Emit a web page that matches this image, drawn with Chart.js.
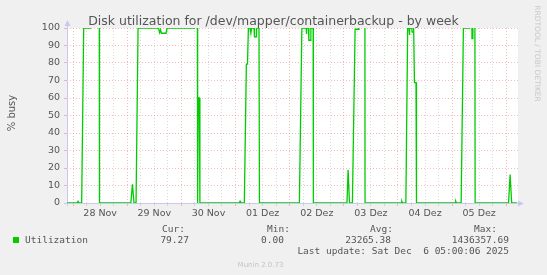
<!DOCTYPE html>
<html>
<head>
<meta charset="utf-8">
<script src="https://cdn.jsdelivr.net/npm/chart.js@4.4.1/dist/chart.umd.min.js"></script>
<style>
  html, body { margin: 0; padding: 0; background: #f0f0f0; }
  #wrap { width: 547px; height: 275px; }
</style>
</head>
<body>
<div id="wrap"><canvas id="chart" width="547" height="275"></canvas></div>
<script>
// time axis: hours since 28 Nov 00:00 (graph ends Sat 6 Dec 05:00)
const hours = [
  -2.7, 1.8, 2.2, 2.7, 3.8, 4.7, 7.8, 8.3, 11.5, 11.7,
  25.6, 26.3, 27.0, 27.9, 28.8, 37.9, 38.3, 38.8, 39.1, 41.2, 41.7,
  53.8, 54.1, 55.0, 55.2, 55.5, 56.0, 56.2,
  73.7, 74.0, 74.3, 75.9, 76.8, 77.3, 77.7, 78.4, 78.8, 79.1, 80.2, 80.4, 81.1, 81.3, 82.4, 82.6,
  100.3, 101.4, 103.3, 103.4, 103.6, 104.3, 104.5, 105.3, 105.4, 106.4, 106.5,
  121.4, 121.9, 122.5, 123.8, 125.0, 126.4, 126.7, 129.3, 129.4,
  145.4, 145.7, 146.0, 147.5, 148.3, 148.9, 149.1, 149.2, 150.1, 150.3, 150.7, 150.8, 151.1, 151.3, 152.0, 152.2,
  169.3, 169.6, 169.9, 172.0, 173.0, 175.6, 175.8, 176.6, 176.8, 177.1, 177.2, 178.0, 178.2,
  193.0, 193.7, 194.4, 196.8
];
// % busy at those times (values above 100 run off the top of the graph)
const busy = [
  0, 0, 1, 0, 0, 100, 100, 200, 200, 0,
  0, 10.7, 0, 0, 100, 100, 97.3, 99, 97, 97, 100,
  100, 200, 200, 0, 60, 60, 0,
  0, 1, 0, 0, 79.4, 79.4, 100, 100, 97, 100, 100, 95, 95, 100, 100, 0,
  0, 100, 100, 96.6, 100, 100, 93, 93, 100, 100, 0,
  0, 19, 0, 0, 99.3, 99.3, 200, 200, 0,
  0, 1, 0, 0, 100, 100, 96, 100, 100, 97.7, 97.7, 100, 100, 68.8, 68.8, 0,
  0, 1, 0, 0, 100, 100, 200, 200, 94, 94, 200, 200, 0,
  0, 16.2, 0, 0
];
const dayLabels = ['28 Nov', '29 Nov', '30 Nov', '01 Dez', '02 Dez', '03 Dez', '04 Dez', '05 Dez'];
const legendHeads = ['Cur:', 'Min:', 'Avg:', 'Max:'];
const legendValues = ['79.27', '0.00', '23265.38', '1436357.69'];

const SANS = 'DejaVu Sans';
const MONO = 'DejaVu Sans Mono';
const MAJOR = 'rgba(235, 120, 120, 0.5)';
const MINOR = 'rgba(175, 175, 175, 0.45)';
const AXIS = '#c8c8f2';

const munin = {
  id: 'munin',
  beforeDraw(chart) {
    const { ctx, chartArea: a } = chart;
    ctx.save();
    ctx.fillStyle = '#ffffff';
    ctx.fillRect(a.left, a.top, a.right - a.left, a.bottom - a.top);
    ctx.restore();
  },
  beforeDatasetsDraw(chart) {
    const { ctx, chartArea: a } = chart;
    ctx.save();
    ctx.strokeStyle = AXIS;
    ctx.fillStyle = AXIS;
    ctx.lineWidth = 1;
    ctx.beginPath();
    ctx.moveTo(a.left + 0.5, a.bottom + 3);
    ctx.lineTo(a.left + 0.5, a.top - 4);
    ctx.moveTo(a.left - 3, a.bottom + 0.5);
    ctx.lineTo(a.right + 2, a.bottom + 0.5);
    ctx.stroke();
    // arrow heads
    ctx.beginPath();
    ctx.moveTo(a.left + 0.5, a.top - 8);
    ctx.lineTo(a.left - 2.5, a.top - 2);
    ctx.lineTo(a.left + 3.5, a.top - 2);
    ctx.fill();
    ctx.beginPath();
    ctx.moveTo(a.right + 6, a.bottom + 0.5);
    ctx.lineTo(a.right, a.bottom - 2.5);
    ctx.lineTo(a.right, a.bottom + 3.5);
    ctx.fill();
    ctx.restore();
  },
  afterDraw(chart) {
    const { ctx } = chart;
    ctx.save();
    ctx.fillStyle = '#555';
    ctx.textAlign = 'center';
    ctx.textBaseline = 'alphabetic';
    ctx.font = `12.5px "${SANS}"`;
    ctx.fillText('Disk utilization for /dev/mapper/containerbackup - by week', 273.5, 25);

    ctx.save();
    ctx.translate(15, 113);
    ctx.rotate(-Math.PI / 2);
    ctx.font = `10px "${SANS}"`;
    ctx.fillText('% busy', 0, 0);
    ctx.restore();

    ctx.save();
    ctx.translate(535, 53.5);
    ctx.rotate(Math.PI / 2);
    ctx.fillStyle = '#c8c8c8';
    ctx.font = `7.5px "${SANS}"`;
    ctx.fillText('RRDTOOL / TOBI OETIKER', 0, 0);
    ctx.restore();

    ctx.fillStyle = '#00cc00';
    ctx.fillRect(13, 237, 6, 6);

    ctx.fillStyle = '#555';
    ctx.font = `9.5px "${MONO}"`;
    ctx.textAlign = 'left';
    ctx.fillText('Utilization', 25, 243);
    ctx.textAlign = 'right';
    const headX = [185, 290, 393, 497];
    const valX = [189, 284, 391, 509];
    legendHeads.forEach((h, i) => ctx.fillText(h, headX[i], 231.5));
    legendValues.forEach((v, i) => ctx.fillText(v, valX[i], 243));
    ctx.fillText('Last update: Sat Dec  6 05:00:06 2025', 509, 254);

    ctx.textAlign = 'center';
    ctx.fillStyle = '#c4c4c4';
    ctx.font = `7px "${SANS}"`;
    ctx.fillText('Munin 2.0.73', 260.5, 267);
    ctx.restore();
  }
};

const gridHours = [];
for (let h = 0; h <= 192; h += 6) gridHours.push(h);
const gridBusy = [];
for (let v = 0; v <= 100; v += 5) gridBusy.push(v);

new Chart(document.getElementById('chart'), {
  type: 'line',
  data: {
    datasets: [{
      label: 'Utilization',
      data: hours.map((h, i) => ({ x: h, y: busy[i] })),
      borderColor: '#00cc00',
      borderWidth: 1.3,
      pointRadius: 0,
      tension: 0,
      fill: false
    }]
  },
  options: {
    responsive: false,
    devicePixelRatio: 1,
    animation: false,
    events: [],
    layout: { padding: { left: 0, top: 28, right: 29, bottom: 50 } },
    plugins: { legend: { display: false }, tooltip: { enabled: false }, title: { display: false } },
    scales: {
      x: {
        type: 'linear',
        min: -2.7,
        max: 197.2,
        afterBuildTicks: s => { s.ticks = gridHours.map(v => ({ value: v })); },
        afterFit: s => { s.height = 22; },
        border: { display: false, dash: [1, 2] },
        grid: {
          color: c => (c.tick && c.tick.value % 24 === 0 ? MAJOR : MINOR),
          lineWidth: 1,
          tickLength: 3
        },
        ticks: {
          autoSkip: false,
          maxRotation: 0,
          padding: 2,
          color: '#555',
          font: { family: SANS, size: 9.5 },
          callback: v => (v % 24 === 12 ? dayLabels[(v - 12) / 24] : '')
        }
      },
      y: {
        min: 0,
        max: 100,
        afterBuildTicks: s => { s.ticks = gridBusy.map(v => ({ value: v })); },
        afterFit: s => { s.width = 67; },
        border: { display: false, dash: [1, 2] },
        grid: {
          color: c => (c.tick && c.tick.value % 10 === 0 ? MAJOR : MINOR),
          lineWidth: 1,
          tickLength: 3
        },
        ticks: {
          padding: 4,
          color: '#555',
          font: { family: SANS, size: 9.5 },
          callback: v => (v % 10 === 0 ? v : '')
        }
      }
    }
  },
  plugins: [munin]
});
</script>
</body>
</html>
